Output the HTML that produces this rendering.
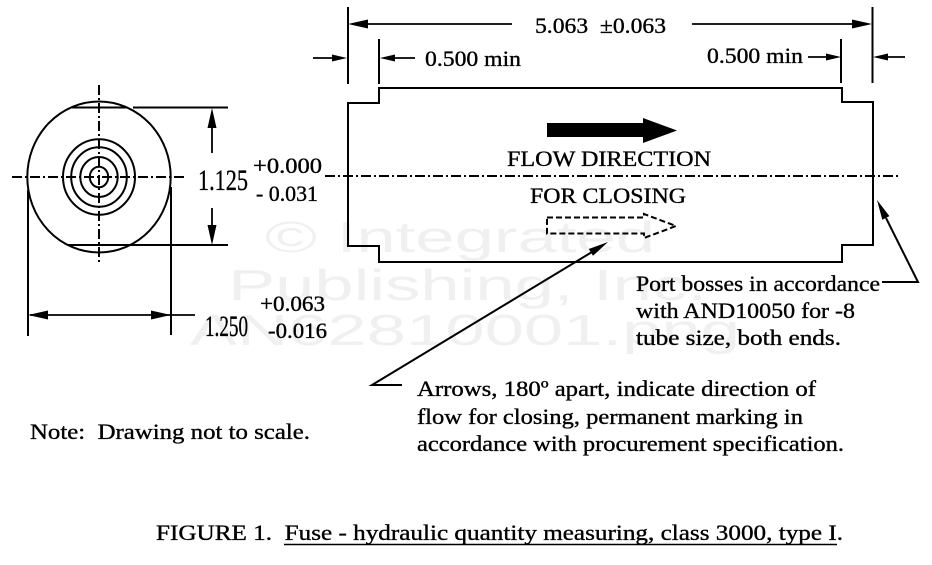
<!DOCTYPE html>
<html>
<head>
<meta charset="utf-8">
<style>
  html, body { margin: 0; padding: 0; background: #ffffff; }
  svg { display: block; }
  .t { font-family: "Liberation Serif", "DejaVu Serif", serif; font-size: 22px; fill: #000; stroke: #000; stroke-width: 0.35px; }
  .wm { font-family: "Liberation Sans", "DejaVu Sans", sans-serif; font-size: 44px; fill: #f0f0f0; }
</style>
</head>
<body>
<svg width="932" height="565" viewBox="0 0 932 565" xmlns="http://www.w3.org/2000/svg">
  <rect x="0" y="0" width="932" height="565" fill="#ffffff"/>

  <!-- Watermark -->
  <text class="wm" x="265" y="252" textLength="390" lengthAdjust="spacingAndGlyphs">© Integrated</text>
  <text class="wm" x="228" y="300" textLength="479" lengthAdjust="spacingAndGlyphs">Publishing, Inc.</text>
  <text class="wm" x="190" y="345" textLength="550" lengthAdjust="spacingAndGlyphs">AN62810001.png</text>

  <!-- ============ LEFT END VIEW ============ -->
  <g fill="none" stroke="#000" stroke-width="2">
    <ellipse cx="99" cy="177" rx="71.7" ry="75.5"/>
    <ellipse cx="99" cy="177" rx="36" ry="37.8"/>
    <ellipse cx="99" cy="177" rx="27.8" ry="29.8"/>
    <ellipse cx="99" cy="177" rx="18.7" ry="20"/>
    <ellipse cx="99" cy="177" rx="9.2" ry="10.3"/>
    <!-- flats -->
    <line x1="72" y1="107.5" x2="127" y2="107.5"/>
    <line x1="68" y1="245" x2="228" y2="245"/>
    <!-- extension top -->
    <line x1="133" y1="107.5" x2="228" y2="107.5"/>
    <!-- vertical extension lines for 1.250 -->
    <line x1="28" y1="190" x2="28" y2="336"/>
    <line x1="171" y1="187" x2="171" y2="335"/>
  </g>
  <!-- centerlines left view -->
  <g fill="none" stroke="#000" stroke-width="2" stroke-dasharray="10 3 2 3">
    <line x1="12" y1="177" x2="186" y2="177"/>
    <line x1="99" y1="85" x2="99" y2="263"/>
  </g>

  <!-- 1.125 vertical dimension -->
  <g stroke="#000" stroke-width="1.8" fill="none">
    <line x1="212" y1="112" x2="212" y2="153"/>
    <line x1="212" y1="208" x2="212" y2="241"/>
  </g>
  <g fill="#000">
    <polygon points="212,108 207.5,128 216.5,128"/>
    <polygon points="212,245 207.5,225 216.5,225"/>
  </g>

  <!-- 1.250 horizontal dimension -->
  <line x1="30" y1="315" x2="195" y2="315" stroke="#000" stroke-width="1.8"/>
  <g fill="#000">
    <polygon points="28,315 48,310.5 48,319.5"/>
    <polygon points="171,315 151,310.5 151,319.5"/>
  </g>

  <!-- dimension texts left -->
  <text class="t" x="198" y="190" style="font-size:30px" textLength="50" lengthAdjust="spacingAndGlyphs">1.125</text>
  <text class="t" x="253" y="173" textLength="69" lengthAdjust="spacingAndGlyphs">+0.000</text>
  <text class="t" x="256" y="201" textLength="62" lengthAdjust="spacingAndGlyphs" xml:space="preserve">- 0.031</text>
  <text class="t" x="205" y="336" style="font-size:30px" textLength="43" lengthAdjust="spacingAndGlyphs">1.250</text>
  <text class="t" x="260" y="311" textLength="65" lengthAdjust="spacingAndGlyphs">+0.063</text>
  <text class="t" x="268" y="338" textLength="59" lengthAdjust="spacingAndGlyphs">-0.016</text>

  <!-- ============ SIDE VIEW BODY ============ -->
  <path d="M348,103 H379 V88 H842 V102 H873 V245 H842 V262 H379 V246 H348 Z"
        fill="none" stroke="#000" stroke-width="2"/>

  <!-- centerline right -->
  <line x1="325" y1="176" x2="898" y2="176" stroke="#000" stroke-width="2" stroke-dasharray="10 3 2 3"/>

  <!-- extension lines top -->
  <g stroke="#000" stroke-width="2">
    <line x1="348" y1="7" x2="348" y2="84"/>
    <line x1="379" y1="39" x2="379" y2="84"/>
    <line x1="841" y1="39" x2="841" y2="83"/>
    <line x1="872.5" y1="7" x2="872.5" y2="83"/>
  </g>

  <!-- 5.063 dimension -->
  <g stroke="#000" stroke-width="1.8">
    <line x1="352" y1="24" x2="512" y2="24"/>
    <line x1="692" y1="24" x2="868" y2="24"/>
  </g>
  <g fill="#000">
    <polygon points="348,24 368,19.5 368,28.5"/>
    <polygon points="872,24 852,19.5 852,28.5"/>
  </g>
  <text class="t" x="535" y="33" textLength="131" lengthAdjust="spacingAndGlyphs" xml:space="preserve">5.063  ±0.063</text>

  <!-- 0.500 min left -->
  <g stroke="#000" stroke-width="1.8">
    <line x1="313" y1="58" x2="336" y2="58"/>
    <line x1="392" y1="58" x2="415" y2="58"/>
  </g>
  <g fill="#000">
    <polygon points="347,58 332,54.5 332,61.5"/>
    <polygon points="380,58 395,54.5 395,61.5"/>
  </g>
  <text class="t" x="425" y="66" textLength="96" lengthAdjust="spacingAndGlyphs">0.500 min</text>

  <!-- 0.500 min right -->
  <g stroke="#000" stroke-width="1.8">
    <line x1="808" y1="57" x2="829" y2="57"/>
    <line x1="885" y1="57" x2="905" y2="57"/>
  </g>
  <g fill="#000">
    <polygon points="841,57 826,53.5 826,60.5"/>
    <polygon points="873,57 888,53.5 888,60.5"/>
  </g>
  <text class="t" x="707" y="63" textLength="96" lengthAdjust="spacingAndGlyphs">0.500 min</text>

  <!-- solid flow arrow -->
  <polygon points="547,123 643,123 643,118 677,130.5 643,143 643,137 547,137" fill="#000"/>
  <text class="t" x="507" y="166" textLength="204" lengthAdjust="spacingAndGlyphs">FLOW DIRECTION</text>
  <text class="t" x="530" y="203" textLength="156" lengthAdjust="spacingAndGlyphs">FOR CLOSING</text>

  <!-- dashed arrow -->
  <polygon points="547,217.5 644,217.5 644,214 676,226 644,238 644,233.5 547,233.5"
           fill="none" stroke="#000" stroke-width="2" stroke-dasharray="6 3"/>

  <!-- leader 1 (arrows note) -->
  <polyline points="402,385 372,385 592,252" fill="none" stroke="#000" stroke-width="2"/>
  <polygon points="608,242 593,255.8 588.8,249" fill="#000"/>

  <!-- leader 2 (port bosses) -->
  <polyline points="882,282 918,282 886,218" fill="none" stroke="#000" stroke-width="2"/>
  <polygon points="877,200 889.4,216.1 882.3,219.7" fill="#000"/>

  <!-- Port bosses note -->
  <text class="t" x="636" y="291" textLength="244" lengthAdjust="spacingAndGlyphs">Port bosses in accordance</text>
  <text class="t" x="636" y="318" textLength="219" lengthAdjust="spacingAndGlyphs">with AND10050 for -8</text>
  <text class="t" x="636" y="345" textLength="205" lengthAdjust="spacingAndGlyphs">tube size, both ends.</text>

  <!-- Arrows note -->
  <text class="t" x="417" y="396" textLength="399" lengthAdjust="spacingAndGlyphs">Arrows, 180º apart, indicate direction of</text>
  <text class="t" x="417" y="424" textLength="386" lengthAdjust="spacingAndGlyphs">flow for closing, permanent marking in</text>
  <text class="t" x="417" y="451" textLength="427" lengthAdjust="spacingAndGlyphs">accordance with procurement specification.</text>

  <!-- Note -->
  <text class="t" x="30" y="439" textLength="280" lengthAdjust="spacingAndGlyphs" xml:space="preserve">Note:  Drawing not to scale.</text>

  <!-- Caption -->
  <text class="t" x="156" y="540" textLength="687" lengthAdjust="spacingAndGlyphs" xml:space="preserve">FIGURE 1.  Fuse - hydraulic quantity measuring, class 3000, type I.</text>
  <line x1="284" y1="544.5" x2="837" y2="544.5" stroke="#000" stroke-width="1.5"/>
</svg>
</body>
</html>
